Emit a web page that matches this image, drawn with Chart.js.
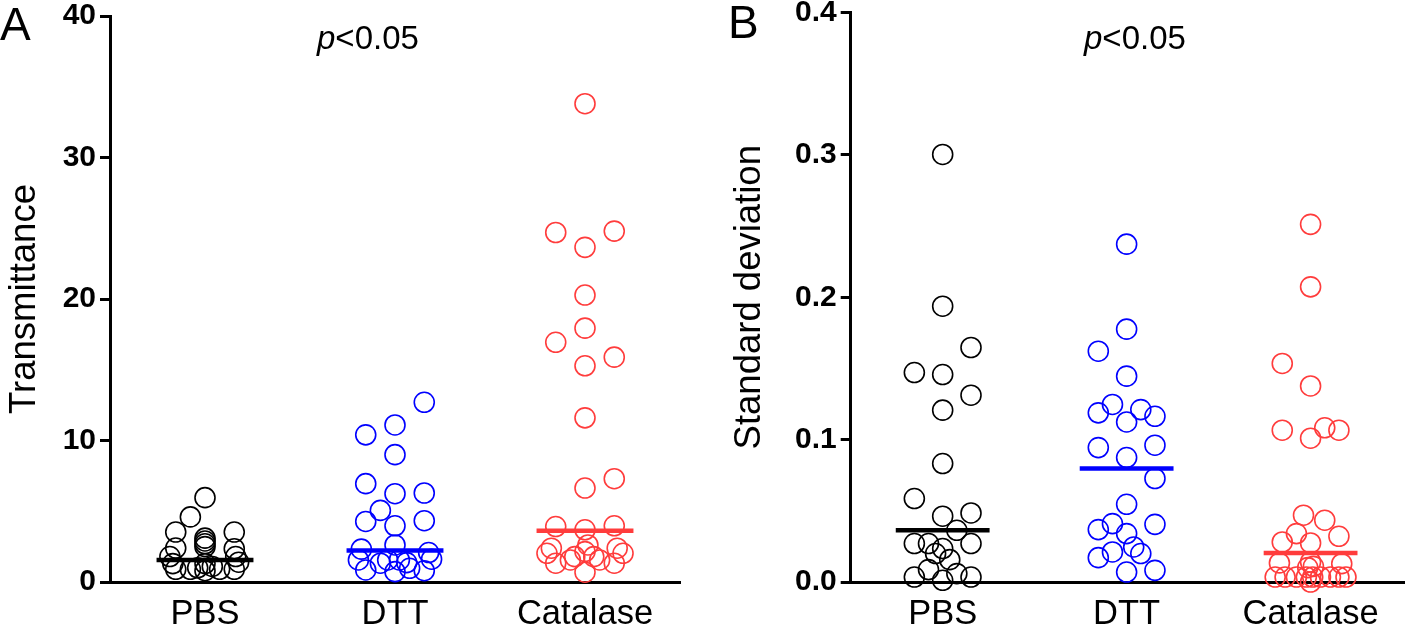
<!DOCTYPE html>
<html lang="en">
<head>
<meta charset="UTF-8">
<title>Transmittance and standard deviation</title>
<script src="https://cdn.jsdelivr.net/npm/chart.js"></script>
<style>
    body {
        margin: 0;
        background: #fff;
        font-family: "Liberation Sans", Arial, sans-serif;
        color: #000;
    }
    .wrap {
        position: relative;
        width: 1416px;
        height: 631px;
        overflow: hidden;
    }
    .panel {
        position: absolute;
        top: 0;
        height: 631px;
    }
    #panelA { left: 0; width: 700px; }
    #panelB { left: 700px; width: 716px; }
    .letter {
        position: absolute;
        font-size: 46px;
        line-height: 1;
    }
    .pval {
        position: absolute;
        font-size: 33px;
        line-height: 1;
        white-space: nowrap;
    }
</style>
</head>
<body>
<div class="wrap">
    <div class="panel" id="panelA"><canvas id="chartA"></canvas></div>
    <div class="panel" id="panelB"><canvas id="chartB"></canvas></div>
    <div class="letter" style="left:0px; top:1px;">A</div>
    <div class="letter" style="left:728px; top:-1px;">B</div>
    <div class="pval" style="left:317px; top:21px;"><i>p</i>&lt;0.05</div>
    <div class="pval" style="left:1084px; top:21px;"><i>p</i>&lt;0.05</div>
</div>

<script>
    const categories = ['PBS', 'DTT', 'Catalase'];
    const colors = ['#000000', '#0000ff', '#ff3c3c'];

    // Panel A - transmittance. *Col = jitter column of each circle (0 = centre)
    const yTicksA = [0, 10, 20, 30, 40];
    const pbsA = [5.96, 4.6, 3.53, 3.53, 3.1, 2.9, 2.7, 2.5, 2.4, 2.35,
                  1.8, 1.3, 0.9, 0.9, 1.0, 0.8, 1.3, 1.1, 0.9, 0.9, 1.4, 1.8];
    const pbsACol = [0, -1, -2, 2, 0, 0, 0, 0, -2, 2,
                     -2.4, -2.2, -2, -1, -0.5, 0, 0, 0.5, 1, 2, 2.3, 2.1];
    const dttA = [12.7, 11.1, 10.4, 9.0, 6.95, 6.24, 6.29, 5.06, 4.28, 4.33, 3.97, 2.62,
                  2.32, 2.08, 1.56, 1.56, 1.56, 1.61, 1.33, 1.37, 0.85, 0.73, 0.97, 0.8];
    const dttACol = [2, 0, -2, 0, -2, 0, 2, -1, -2, 2, 0, 0,
                     -2.3, 2.3, -2.5, -0.5, 0.3, 2.5, -1, 0.8, -2, 0, 1, 2];
    const catA = [33.8, 24.7, 24.8, 23.65, 20.28, 17.94, 16.94, 15.89, 15.28, 11.6, 7.3, 6.64,
                  3.92, 3.69, 3.97, 2.39, 2.03, 2.39, 2.03, 2.62, 2.15, 1.79, 1.79, 1.33,
                  1.56, 1.56, 1.33, 0.69];
    const catACol = [0, -2, 2, 0, 0, 0, -2, 2, 0, 0, 2, 0,
                     -2, 0, 2, -2.3, -2.6, 2.2, 2.6, 0.2, 0, -0.7, 0.6, -2,
                     -1, 1, 2, 0];
    const meanA = [1.56, 2.22, 3.62];

    // Panel B - standard deviation
    const yTicksB = [0, 0.1, 0.2, 0.3, 0.4];
    const pbsB = [0.3003, 0.1937, 0.1647, 0.1471, 0.1457, 0.1312, 0.1207, 0.0832, 0.0586, 0.0485,
                  0.0462, 0.0363, 0.027, 0.027, 0.027, 0.0235, 0.02, 0.0157, 0.0087, 0.0035,
                  0.0012, 0.0059, 0.0035];
    const pbsBCol = [0, 0, 2, -2, 0, 2, 0, 0, -2, 2,
                     0, 1, -2, -1, 2, 0, -0.5, 0.5, -1, -2,
                     0, 1, 2];
    const dttB = [0.2373, 0.1776, 0.1621, 0.1446, 0.1247, 0.1188, 0.1211, 0.1164, 0.1124, 0.0944,
                  0.0961, 0.0874, 0.0727, 0.0546, 0.0405, 0.041, 0.0368, 0.034, 0.0246, 0.02,
                  0.0211, 0.0171, 0.007, 0.0082];
    const dttBCol = [0, 0, -2, 0, -1, -2, 1, 2, 0, -2,
                     2, 0, 2, 0, 2, -1, -2, 0, 0.5, 1,
                     -1, -2, 0, 2];
    const catB = [0.2512, 0.2073, 0.1535, 0.1377, 0.1066, 0.101, 0.1083, 0.1066, 0.0469, 0.0434,
                  0.034, 0.0321, 0.0281, 0.0274, 0.0134, 0.0141, 0.0129, 0.0101, 0.011, 0.0035,
                  0.0035, 0.0035, 0.0035, 0.0035, 0.0035, 0.0035, 0.0035, 0.0035, 0.0];
    const catBCol = [0, 0, -2, 0, -2, 0, 1, 2, -0.5, 1,
                     -1, 2, -2, 0, -2.2, 0, 2.2, -0.2, 0.2, -2.5,
                     -1.8, -1, -0.3, 0.15, 0.7, 1.4, 2, 2.5, 0];
    const meanB = [0.0363, 0.0797, 0.0204];

    const COL = 0.077;   // width of one jitter column, in category units
    const HALF = 0.255;  // half length of the mean bar

    function makeChart(id, groups, cols, means, yTicks, cfg) {
        const datasets = [];
        means.forEach((m, g) => {
            datasets.push({
                data: [{ x: g + 1 - HALF, y: m }, { x: g + 1 + HALF, y: m }],
                showLine: true,
                borderColor: colors[g],
                borderWidth: 4.5,
                pointRadius: 0,
                clip: false,
                order: 0
            });
        });
        groups.forEach((vals, g) => {
            datasets.push({
                data: vals.map((v, i) => ({ x: g + 1 + cols[g][i] * COL, y: v })),
                showLine: false,
                pointRadius: 10,
                pointBorderWidth: 1.6,
                pointBorderColor: colors[g],
                pointBackgroundColor: 'rgba(0,0,0,0)',
                clip: false,
                order: 1
            });
        });

        new Chart(document.getElementById(id), {
            type: 'scatter',
            data: { datasets: datasets },
            options: {
                responsive: true,
                maintainAspectRatio: false,
                animation: false,
                layout: { padding: { top: cfg.top, right: cfg.right, bottom: 0, left: 0 } },
                plugins: { legend: { display: false }, tooltip: { enabled: false } },
                scales: {
                    x: {
                        type: 'linear',
                        min: 0.5,
                        max: cfg.xMax,
                        afterBuildTicks: s => { s.ticks = [1, 2, 3].map(v => ({ value: v })); },
                        afterFit: s => { s.height = 49; s.paddingLeft = 0; s.paddingRight = 0; },
                        ticks: {
                            autoSkip: false,
                            maxRotation: 0,
                            padding: 12,
                            color: '#000',
                            font: { family: 'Liberation Sans', size: 34.5 },
                            callback: v => categories[v - 1]
                        },
                        grid: { display: false, drawTicks: false },
                        border: { display: true, color: '#000', width: 3 }
                    },
                    y: {
                        type: 'linear',
                        min: 0,
                        max: yTicks[yTicks.length - 1],
                        afterBuildTicks: s => { s.ticks = yTicks.map(v => ({ value: v })); },
                        afterFit: s => { s.width = cfg.yWidth; s.paddingTop = 0; s.paddingBottom = 0; },
                        ticks: {
                            padding: 4,
                            color: '#000',
                            font: { family: 'Liberation Sans', size: 30, weight: 'bold' },
                            callback: v => cfg.decimals ? v.toFixed(cfg.decimals) : v
                        },
                        grid: { drawOnChartArea: false, drawTicks: true, tickLength: 10, color: '#000', lineWidth: 3 },
                        border: { color: '#000', width: 3 },
                        title: {
                            display: true,
                            text: cfg.title,
                            color: '#000',
                            font: { family: 'Liberation Sans', size: 36.5 },
                            padding: { top: cfg.titlePad, bottom: 0 }
                        }
                    }
                }
            }
        });
    }

    makeChart('chartA', [pbsA, dttA, catA], [pbsACol, dttACol, catACol], meanA, yTicksA,
        { top: 16, right: 20, xMax: 3.5, yWidth: 110, title: 'Transmittance', titlePad: 3, decimals: 0 });
    makeChart('chartB', [pbsB, dttB, catB], [pbsBCol, dttBCol, catBCol], meanB, yTicksB,
        { top: 12.5, right: 2, xMax: 3.51, yWidth: 150.7, title: 'Standard deviation', titlePad: 28, decimals: 1 });
</script>
</body>
</html>
